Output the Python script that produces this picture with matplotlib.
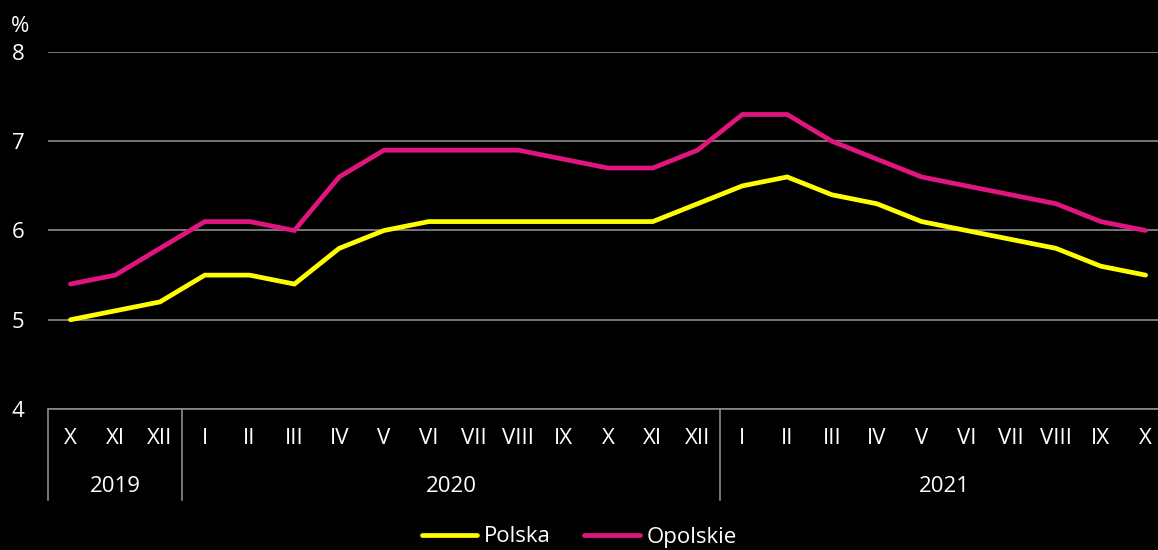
import matplotlib
matplotlib.use("Agg")
import matplotlib.pyplot as plt
import numpy as np

months = ["X", "XI", "XII",
          "I", "II", "III", "IV", "V", "VI", "VII", "VIII", "IX", "X", "XI", "XII",
          "I", "II", "III", "IV", "V", "VI", "VII", "VIII", "IX", "X"]
years = ["2019", "2020", "2021"]
year_counts = [3, 12, 10]

polska = [5.0, 5.1, 5.2, 5.5, 5.5, 5.4, 5.8, 6.0, 6.1, 6.1, 6.1, 6.1, 6.1,
          6.1, 6.3, 6.5, 6.6, 6.4, 6.3, 6.1, 6.0, 5.9, 5.8, 5.6, 5.5]
opolskie = [5.4, 5.5, 5.8, 6.1, 6.1, 6.0, 6.6, 6.9, 6.9, 6.9, 6.9, 6.8, 6.7,
            6.7, 6.9, 7.3, 7.3, 7.0, 6.8, 6.6, 6.5, 6.4, 6.3, 6.1, 6.0]

yticks = [4, 5, 6, 7, 8]

plt.rcParams['font.family'] = ['Open Sans', 'DejaVu Sans']
BG = "black"
GRID = "#8c8c8c"
YEL = "#ffff00"
MAG = "#e0157f"
FS = 16
LW = 3.4

W, H = 1158, 550
fig = plt.figure(figsize=(W / 100, H / 100), dpi=100, facecolor=BG)
left = 48 / W
width = 1120 / W
bottom = 1 - 409 / H
top = 1 - 52 / H
ax = fig.add_axes([left, bottom, width, top - bottom], facecolor=BG)

x = np.arange(len(months))
ax.plot(x, polska, color=YEL, lw=LW, solid_capstyle='round', solid_joinstyle='miter', label="Polska", zorder=3)
ax.plot(x, opolskie, color=MAG, lw=LW, solid_capstyle='round', solid_joinstyle='miter', label="Opolskie", zorder=3)

ax.set_xlim(-0.5, len(months) - 0.5)
ax.set_ylim(4, 8)
ax.set_yticks(yticks)
ax.set_yticklabels([str(v) for v in yticks], color="white", fontsize=FS)
ax.tick_params(axis='y', length=0, pad=17)
ax.yaxis.grid(True, color=GRID, lw=1.2)
ax.set_axisbelow(True)
for s in ["top", "right", "left"]:
    ax.spines[s].set_visible(False)
ax.spines["bottom"].set_color(GRID)
ax.spines["bottom"].set_linewidth(1.2)
ax.set_xticks([])

trans = ax.get_xaxis_transform()
month_y = -(438 - 409) / (409 - 52)
year_y = -(487 - 409) / (409 - 52)
sep_bottom = -(500 - 409) / (409 - 52)
for i, m in enumerate(months):
    ax.text(i, month_y, m, transform=trans, ha="center", va="center", color="white", fontsize=FS)

start = 0
bounds = [-0.5]
for yr, cnt in zip(years, year_counts):
    center = start + (cnt - 1) / 2
    ax.text(center, year_y, yr, transform=trans, ha="center", va="center", color="white", fontsize=FS)
    start += cnt
    bounds.append(start - 0.5)
for b in bounds[:-1]:
    ax.plot([b, b], [0, sep_bottom], transform=trans, color=GRID, lw=1.2, clip_on=False)

fig.text(20 / W, 1 - 26 / H, "%", color="white", fontsize=FS, ha="center", va="center")

leg = fig.legend(loc="center", bbox_to_anchor=(0.5, 1 - 537 / H), ncol=2, frameon=False,
                 fontsize=FS, labelcolor="white", handlelength=2.5, handletextpad=0.3,
                 columnspacing=1.5)
for line in leg.get_lines():
    line.set_linewidth(LW)

fig.savefig("out.png", dpi=100, facecolor=BG)
